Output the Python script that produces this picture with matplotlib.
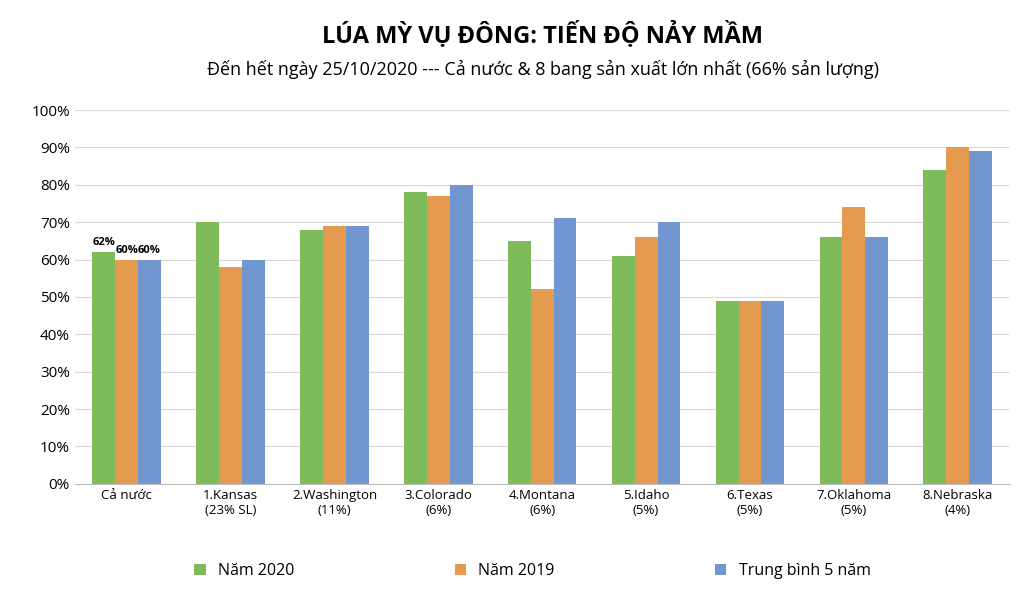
import matplotlib
matplotlib.use("Agg")
import matplotlib.pyplot as plt
import numpy as np

plt.rcParams['font.family'] = ['Open Sans', 'DejaVu Sans']

categories = ["Cả nước", "1.Kansas\n(23% SL)", "2.Washington\n(11%)", "3.Colorado\n(6%)",
              "4.Montana\n(6%)", "5.Idaho\n(5%)", "6.Texas\n(5%)", "7.Oklahoma\n(5%)", "8.Nebraska\n(4%)"]
nam_2020 = [62, 70, 68, 78, 65, 61, 49, 66, 84]
nam_2019 = [60, 58, 69, 77, 52, 66, 49, 74, 90]
tb_5_nam = [60, 60, 69, 80, 71, 70, 49, 66, 89]

series = [("Năm 2020", nam_2020, "#7DBB5B"),
          ("Năm 2019", nam_2019, "#E59B4F"),
          ("Trung bình 5 năm", tb_5_nam, "#7196D0")]

fig = plt.figure(figsize=(10.24, 5.98), dpi=100)
ax = fig.add_axes([0.073, 0.191, 0.913, 0.625])

x = np.arange(len(categories))
w = 0.22
handles = []
for i, (name, vals, color) in enumerate(series):
    bars = ax.bar(x + (i - 1) * w, vals, w, color=color, label=name, zorder=3)
    handles.append(bars)
    ax.text(x[0] + (i - 1) * w, vals[0] + 1, f"{vals[0]}%", ha="center", va="bottom",
            fontsize=8, fontweight="bold")

ax.set_ylim(0, 100)
ax.set_xlim(-0.5, len(categories) - 0.5)
ax.set_yticks(range(0, 101, 10))
ax.set_yticklabels([f"{v}%" for v in range(0, 101, 10)], fontsize=11)
ax.set_xticks(x)
ax.set_xticklabels(categories, fontsize=9.5)
ax.tick_params(length=0)
ax.grid(axis="y", color="#D9D9D9", linewidth=0.8, zorder=0)
for s in ["top", "right", "left"]:
    ax.spines[s].set_visible(False)
ax.spines["bottom"].set_color("#BFBFBF")

fig.text(0.53, 0.93, "LÚA MỲ VỤ ĐÔNG: TIẾN ĐỘ NẢY MẦM", ha="center", fontsize=17, fontweight="bold")
fig.text(0.53, 0.875, "Đến hết ngày 25/10/2020 --- Cả nước & 8 bang sản xuất lớn nhất (66% sản lượng)",
         ha="center", fontsize=13)

fig.legend(handles=handles, loc="center", bbox_to_anchor=(0.52, 0.045), ncol=3, frameon=False,
           fontsize=11.5, columnspacing=10, handlelength=0.7, handleheight=0.7)

fig.savefig("out.png", dpi=100)
